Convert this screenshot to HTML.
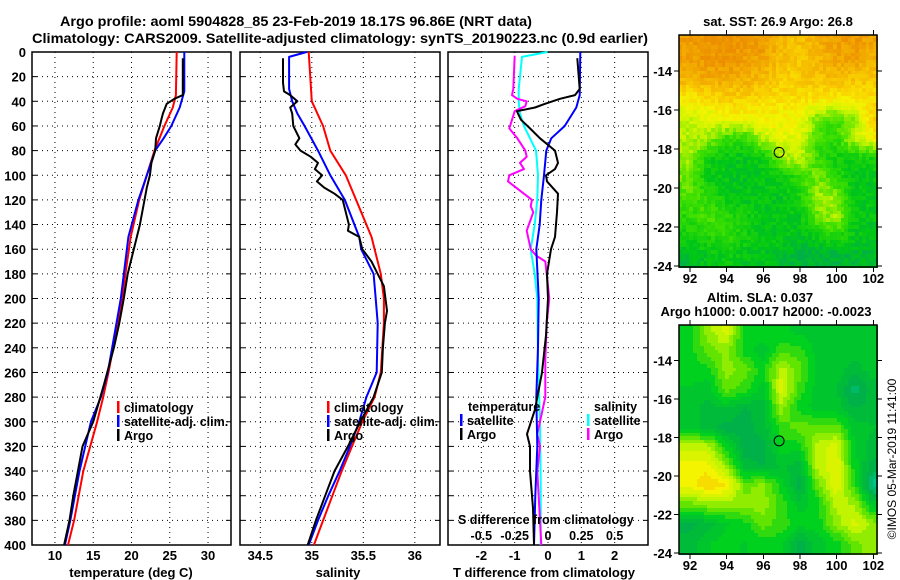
<!DOCTYPE html>
<html><head><meta charset="utf-8">
<style>
html,body{margin:0;padding:0;background:#fff;}
svg{display:block;font-family:"Liberation Sans",sans-serif;}
.b{font-weight:bold;font-size:13px;fill:#000;}
.lg{font-weight:bold;font-size:12.5px;fill:#000;}
</style></head>
<body>
<svg id="fig" width="900" height="580" viewBox="0 0 900 580" xmlns="http://www.w3.org/2000/svg">
<rect width="900" height="580" fill="#fff"/>
<text class="b" x="60" y="26" textLength="472" lengthAdjust="spacingAndGlyphs" style="font-size:14px">Argo profile: aoml 5904828_85 23-Feb-2019 18.17S 96.86E (NRT data)</text>
<text class="b" x="32" y="43" textLength="616" lengthAdjust="spacingAndGlyphs" style="font-size:14px">Climatology: CARS2009. Satellite-adjusted climatology: synTS_20190223.nc (0.9d earlier)</text>
<g id="maps"></g>
<g id="panels"></g>
<text class="b" x="778" y="26" text-anchor="middle">sat. SST: 26.9 Argo: 26.8</text>
<text class="b" x="760" y="302" text-anchor="middle">Altim. SLA: 0.037</text>
<text class="b" x="766" y="316" text-anchor="middle">Argo h1000: 0.0017 h2000: -0.0023</text>
<text x="0" y="0" transform="translate(896,459) rotate(-90)" text-anchor="middle" style="font-size:12px">©IMOS 05-Mar-2019 11:41:00</text>
</svg>
<script>
const tClimDepth=[0,35,45,60,80,100,120,150,180,200,240,260,280,300,340,380,400];
const tClimVal=[25.9,25.8,25.4,24.3,23.0,22.0,21.0,19.9,19.2,18.8,17.6,17.0,16.3,15.5,13.7,12.5,11.7];
const tSatDepth=[0,32,45,60,70,80,100,120,150,200,260,280,300,340,380,400];
const tSatVal=[26.9,26.9,26.3,25.2,24.2,23.1,22.0,20.9,19.6,18.6,16.9,16.0,14.7,13.2,12.0,11.3];
const tArgoDepth=[5,35,38,42,50,55,60,70,80,90,100,110,120,140,160,180,200,220,240,270,300,320,340,360,380,400];
const tArgoVal=[26.7,26.7,25.6,24.6,24.1,23.9,23.7,23.2,23.1,22.6,22.4,22.0,21.7,21.1,20.3,19.5,19.0,18.4,17.7,16.4,15.0,13.6,13.0,12.4,11.9,11.2];

const sClimDepth=[0,40,60,80,100,120,150,180,200,220,260,280,300,320,340,360,380,400];
const sClimVal=[34.97,35.0,35.11,35.18,35.33,35.43,35.58,35.67,35.70,35.70,35.67,35.61,35.49,35.39,35.29,35.20,35.11,35.02];
const sSatDepth=[0,4,30,40,50,60,80,100,120,150,160,180,200,220,260,280,300,320,340,360,380,400];
const sSatVal=[34.95,34.78,34.78,34.81,34.86,34.93,35.06,35.18,35.32,35.46,35.48,35.6,35.62,35.64,35.63,35.53,35.46,35.37,35.27,35.16,35.06,34.97];
const sArgoDepth=[5,25,32,35,40,45,50,60,70,75,80,85,90,95,100,105,110,115,120,130,140,145,150,160,170,180,190,210,220,240,260,280,300,320,340,360,380,400];
const sArgoVal=[34.72,34.72,34.73,34.79,34.86,34.79,34.81,34.82,34.88,34.84,34.89,34.99,35.06,35.03,35.10,35.05,35.12,35.22,35.30,35.33,35.36,35.35,35.46,35.49,35.58,35.64,35.70,35.73,35.71,35.69,35.68,35.60,35.47,35.35,35.22,35.13,35.04,34.96];

const dTSatDepth=[0,35,45,60,70,80,100,120,140,160,200,240,280,320,360,400];
const dTSatVal=[0.97,0.95,0.85,0.5,0.1,-0.05,-0.12,-0.2,-0.25,-0.35,-0.28,-0.3,-0.35,-0.32,-0.38,-0.42];
const dTArgoDepth=[5,30,35,38,42,45,48,50,55,62,70,80,90,95,100,105,115,130,150,160,180,200,230,260,290,310,320,340,370,400];
const dTArgoVal=[0.88,0.95,0.81,0.36,-0.09,-0.39,-0.93,-0.9,-0.81,-0.54,-0.24,0.21,0.3,0.21,-0.06,-0.03,0.3,0.27,0.21,0.09,-0.03,0.0,-0.06,-0.18,-0.39,-0.63,-0.54,-0.54,-0.45,-0.42];
const dSSatDepth=[0,4,30,40,50,60,80,100,120,140,160,180,200,250,300,350,400];
const dSSatVal=[-0.003,-0.195,-0.22,-0.22,-0.21,-0.18,-0.09,-0.075,-0.08,-0.1,-0.13,-0.1,-0.08,-0.075,-0.06,-0.055,-0.055];
const dSArgoDepth=[3,30,35,38,40,44,48,55,62,70,80,85,90,95,100,105,110,120,125,130,145,160,165,170,180,200,220,250,280,310,320,340,380,400];
const dSArgoVal=[-0.25,-0.26,-0.27,-0.23,-0.16,-0.17,-0.25,-0.27,-0.29,-0.23,-0.17,-0.16,-0.21,-0.18,-0.29,-0.30,-0.24,-0.12,-0.13,-0.11,-0.16,-0.13,-0.09,-0.02,-0.01,0.01,-0.01,-0.02,-0.02,-0.08,-0.06,-0.08,-0.06,-0.05];

const depthTicks=[0,20,40,60,80,100,120,140,160,180,200,220,240,260,280,300,320,340,360,380,400];
const tTicks=[10,15,20,25,30];
const sTicks=[34.5,35,35.5,36];
const dTTicks=[-2,-1,0,1,2];
const dSTickLabels=["-0.5","-0.25","0","0.25","0.5"];
const dSTicks=[-0.5,-0.25,0,0.25,0.5];

const sstGrid=[
[0.88,0.9,0.92,0.9,0.88,0.78,0.75,0.8,0.86,0.88,0.85],
[0.86,0.88,0.9,0.86,0.84,0.76,0.74,0.78,0.84,0.84,0.8],
[0.78,0.82,0.82,0.8,0.76,0.72,0.72,0.74,0.76,0.74,0.72],
[0.62,0.66,0.7,0.7,0.68,0.66,0.66,0.64,0.62,0.64,0.68],
[0.52,0.55,0.58,0.6,0.6,0.6,0.6,0.4,0.35,0.45,0.7],
[0.48,0.45,0.32,0.3,0.5,0.55,0.55,0.33,0.3,0.5,0.6],
[0.45,0.25,0.2,0.2,0.22,0.45,0.5,0.32,0.24,0.24,0.25],
[0.4,0.22,0.2,0.18,0.2,0.22,0.3,0.42,0.28,0.2,0.2],
[0.36,0.3,0.22,0.2,0.2,0.2,0.26,0.45,0.45,0.2,0.2],
[0.3,0.35,0.3,0.25,0.2,0.2,0.2,0.4,0.46,0.22,0.2],
[0.25,0.28,0.3,0.25,0.2,0.2,0.18,0.22,0.3,0.2,0.18],
[0.15,0.2,0.22,0.2,0.18,0.16,0.12,0.12,0.12,0.15,0.15]];
const slaGrid=[
[0.45,0.6,0.7,0.45,0.45,0.45,0.4,0.4,0.4,0.4,0.42],
[0.45,0.55,0.6,0.45,0.4,0.5,0.5,0.4,0.4,0.4,0.4],
[0.45,0.45,0.6,0.55,0.45,0.65,0.55,0.4,0.4,0.35,0.4],
[0.42,0.4,0.55,0.5,0.4,0.7,0.5,0.4,0.38,0.25,0.35],
[0.4,0.35,0.38,0.32,0.35,0.6,0.45,0.4,0.4,0.32,0.35],
[0.42,0.35,0.3,0.3,0.35,0.5,0.55,0.55,0.55,0.4,0.38],
[0.65,0.65,0.45,0.3,0.3,0.45,0.45,0.65,0.7,0.42,0.35],
[0.75,0.75,0.6,0.35,0.32,0.38,0.35,0.65,0.72,0.45,0.3],
[0.75,0.82,0.78,0.55,0.6,0.45,0.3,0.55,0.72,0.5,0.2],
[0.55,0.6,0.6,0.6,0.6,0.5,0.4,0.45,0.65,0.62,0.4],
[0.3,0.35,0.42,0.45,0.55,0.5,0.45,0.45,0.6,0.7,0.6],
[0.35,0.42,0.45,0.42,0.45,0.45,0.3,0.4,0.45,0.55,0.62]];
const argoLon=96.86, argoLat=-18.17;
const latTicks=[-14,-16,-18,-20,-22,-24];
const lonTicks=[92,94,96,98,100,102];

const NS="http://www.w3.org/2000/svg";
function mk(tag,attrs,parent){const e=document.createElementNS(NS,tag);for(const k in attrs)e.setAttribute(k,attrs[k]);parent.appendChild(e);return e;}
const panels=document.getElementById('panels');
const maps=document.getElementById('maps');
const Y0=52,Y1=545;
function yD(d){return Y0+d*(Y1-Y0)/400;}

function panel(name,x0,x1,vmin,vmax){
  const g=mk('g',{},panels);
  
  
  const sx=v=>x0+(v-vmin)*(x1-x0)/(vmax-vmin);
  return {g,sx,x0,x1};
}
function frame(p,xt,xlabels,showY){
  depthTicks.forEach(d=>{
    if(d>0&&d<400){const l=mk('line',{x1:p.x0,x2:p.x1,y1:yD(d),y2:yD(d),stroke:'#000','stroke-width':1,'stroke-dasharray':'1,4'},p.g);
    }
    mk('line',{x1:p.x0,x2:p.x0+5,y1:yD(d),y2:yD(d),stroke:'#000'},p.g);
    mk('line',{x1:p.x1-5,x2:p.x1,y1:yD(d),y2:yD(d),stroke:'#000'},p.g);
    if(showY){const t=mk('text',{x:26,y:yD(d)+5,'text-anchor':'end',class:'b'},p.g);t.textContent=d;
      }
  });
  xt.forEach((v,i)=>{
    const x=p.sx(v);
    const l=mk('line',{x1:x,x2:x,y1:Y0,y2:Y1,stroke:'#000','stroke-dasharray':'1,4'},p.g);
    
    if(xlabels){const t=mk('text',{x:x,y:560,'text-anchor':'middle',class:'b'},p.g);t.textContent=xlabels[i];
      }
  });
  const r=mk('rect',{x:p.x0,y:Y0,width:p.x1-p.x0,height:Y1-Y0,fill:'none',stroke:'#000','stroke-width':1.5},p.g);
  
}
function line(p,ds,vs,col,w,name,conv){
  const pts=ds.map((d,i)=>(p.sx(conv?conv(vs[i]):vs[i])).toFixed(1)+','+yD(d).toFixed(1)).join(' ');
  const l=mk('polyline',{points:pts,fill:'none',stroke:col,'stroke-width':w,'stroke-linejoin':'round'},p.g);
  
  
}
function label(p,x,y,txt,name,anchor,cls){
  const t=mk('text',{x:x,y:y,class:cls||'b','text-anchor':anchor||'start'},p.g);t.textContent=txt;
  
  
}
function legend(p,x,y,col,txt,name){
  const g=mk('g',{},p.g);
  
  
  mk('rect',{x:x,y:y-11,width:2.5,height:12,fill:col},g);
  const t=mk('text',{x:x+7,y:y,class:'lg'},g);t.textContent=txt;
}

const p1=panel('temperature-panel',32,231,7,33);
frame(p1,tTicks,tTicks.map(String),true);
line(p1,tClimDepth,tClimVal,'#f00',2,'temperature-climatology-line');
line(p1,tSatDepth,tSatVal,'#00f',2,'temperature-satellite-line');
line(p1,tArgoDepth,tArgoVal,'#000',2,'temperature-argo-line');
legend(p1,117,412,'#f00','climatology','legend-climatology');
legend(p1,117,426,'#00f','satellite-adj. clim.','legend-satellite-adj');
legend(p1,117,440,'#000','Argo','legend-argo');
label(p1,131,577,'temperature (deg C)','x-axis-title-temperature','middle');

const p2=panel('salinity-panel',240,440,34.3,36.44);
p2.sx=v=>260.3+(v-34.5)*103;
frame(p2,sTicks,sTicks.map(String),false);
line(p2,sClimDepth,sClimVal,'#f00',2,'salinity-climatology-line');
line(p2,sSatDepth,sSatVal,'#00f',2,'salinity-satellite-line');
line(p2,sArgoDepth,sArgoVal,'#000',2,'salinity-argo-line');
legend(p2,327,412,'#f00','climatology','legend-climatology');
legend(p2,327,426,'#00f','satellite-adj. clim.','legend-satellite-adj');
legend(p2,327,440,'#000','Argo','legend-argo');
label(p2,338,577,'salinity','x-axis-title-salinity','middle');

const p3=panel('difference-panel',448,648,-3,3);
frame(p3,dTTicks,dTTicks.map(String),false);
line(p3,dSSatDepth,dSSatVal,'#0ff',2,'salinity-diff-satellite-line',v=>v*4);
line(p3,dSArgoDepth,dSArgoVal,'#f0f',2,'salinity-diff-argo-line',v=>v*4);
line(p3,dTSatDepth,dTSatVal,'#00f',2,'temperature-diff-satellite-line');
line(p3,dTArgoDepth,dTArgoVal,'#000',2,'temperature-diff-argo-line');
label(p3,468,411,'temperature','legend-temperature-heading','start','lg');
legend(p3,460,425,'#00f','satellite','legend-temp-satellite');
legend(p3,460,439,'#000','Argo','legend-temp-argo');
label(p3,594,411,'salinity','legend-salinity-heading','start','lg');
legend(p3,587,425,'#0ff','satellite','legend-sal-satellite');
legend(p3,587,439,'#f0f','Argo','legend-sal-argo');
label(p3,458,524,'S difference from climatology','s-diff-axis-title','start','lg');
dSTicks.forEach((v,i)=>{const t=mk('text',{x:p3.sx(v*4),y:540,'text-anchor':'middle',class:'lg'},p3.g);t.textContent=dSTickLabels[i];
  });
label(p3,544,577,'T difference from climatology','x-axis-title-t-diff','middle');

function cmap(stops,v){
  if(v<=stops[0][0]){const a=stops[0];return 'rgb('+a[1]+','+a[2]+','+a[3]+')';}
  for(let i=1;i<stops.length;i++){if(v<=stops[i][0]){const a=stops[i-1],b=stops[i],t=(v-a[0])/(b[0]-a[0]);
    return 'rgb('+[1,2,3].map(k=>Math.round(a[k]+(b[k]-a[k])*t)).join(',')+')';}}
  const l=stops[stops.length-1];return 'rgb('+l[1]+','+l[2]+','+l[3]+')';
}
const sstStops=[[0.1,0,176,70],[0.2,0,200,20],[0.35,64,224,0],[0.5,200,244,0],[0.6,244,244,0],[0.7,250,210,0],[0.8,244,178,0],[0.92,236,142,0]];
const slaStops=[[0.2,0,196,140],[0.3,0,176,72],[0.45,0,208,30],[0.55,96,228,0],[0.65,192,244,0],[0.75,244,244,0],[0.85,250,196,0]];
function hash(a,b){let h=(a*374761393+b*668265263)|0;h=(h^(h>>>13))*1274126177|0;return ((h>>>0)%1000)/1000;}
function drawMap(name,grid,stops,x0,x1,y0,y1,cell,noise){
  const g=mk('g',{'shape-rendering':'crispEdges'},maps);
  
  
  const lonMin=91.4,lonMax=102.2,latMax=-12.15,latMin=-24.05;
  const R=grid.length,C=grid[0].length;
  const lx=x=>lonMin+(x-x0)/(x1-x0)*(lonMax-lonMin);
  const ly=y=>latMax-(y-y0)/(y1-y0)*(latMax-latMin);
  let ix=0,iy=0;
  for(let y=y0;y<y1;y+=cell,iy++){ix=0;for(let x=x0;x<x1;x+=cell,ix++){
    const lo=lx(x+cell/2),la=ly(y+cell/2);
    let c=Math.min(C-1,Math.max(0,lo-92)),r=Math.min(R-1,Math.max(0,-12.5-la));
    const c0=Math.floor(c),r0=Math.floor(r),c1=Math.min(C-1,c0+1),r1=Math.min(R-1,r0+1),fc=c-c0,fr=r-r0;
    let v=grid[r0][c0]*(1-fc)*(1-fr)+grid[r0][c1]*fc*(1-fr)+grid[r1][c0]*(1-fc)*fr+grid[r1][c1]*fc*fr;
    if(noise) v+= (hash(ix,iy)-0.5)*noise; else v=Math.round(v*20)/20;
    mk('rect',{x:Math.floor(x),y:Math.floor(y),width:Math.ceil(Math.min(cell,x1-x))+1,height:Math.ceil(Math.min(cell,y1-y))+1,fill:cmap(stops,v)},g);
  }}
  const sxm=lo=>x0+(lo-lonMin)/(lonMax-lonMin)*(x1-x0);
  const sym=la=>y0+(latMax-la)/(latMax-latMin)*(y1-y0);
  const fr=mk('rect',{x:x0,y:y0,width:x1-x0,height:y1-y0,fill:'none',stroke:'#000','stroke-width':1.5,'shape-rendering':'auto'},g);
  latTicks.forEach(la=>{const y=sym(la);mk('line',{x1:x0-5,x2:x0,y1:y,y2:y,stroke:'#000'},g);mk('line',{x1:x1,x2:x1+5,y1:y,y2:y,stroke:'#000'},g);
    const t=mk('text',{x:x0-7,y:y+5,'text-anchor':'end',class:'b'},g);t.textContent=la;
    });
  lonTicks.forEach(lo=>{const x=sxm(lo);mk('line',{x1:x,x2:x,y1:y0-5,y2:y0,stroke:'#000'},g);mk('line',{x1:x,x2:x,y1:y1,y2:y1+5,stroke:'#000'},g);
    const t=mk('text',{x:x,y:y1+16,'text-anchor':'middle',class:'b'},g);t.textContent=lo;
    });
  const m=mk('circle',{cx:sxm(argoLon),cy:sym(argoLat),r:5,fill:'none',stroke:'#000','stroke-width':1,'shape-rendering':'auto'},g);
  
  
}
drawMap('sst-map',sstGrid,sstStops,679,877,35,267,3.6,0.1);
drawMap('sla-map',slaGrid,slaStops,679,877,325,554,3.6,0);
</script>
</body></html>
